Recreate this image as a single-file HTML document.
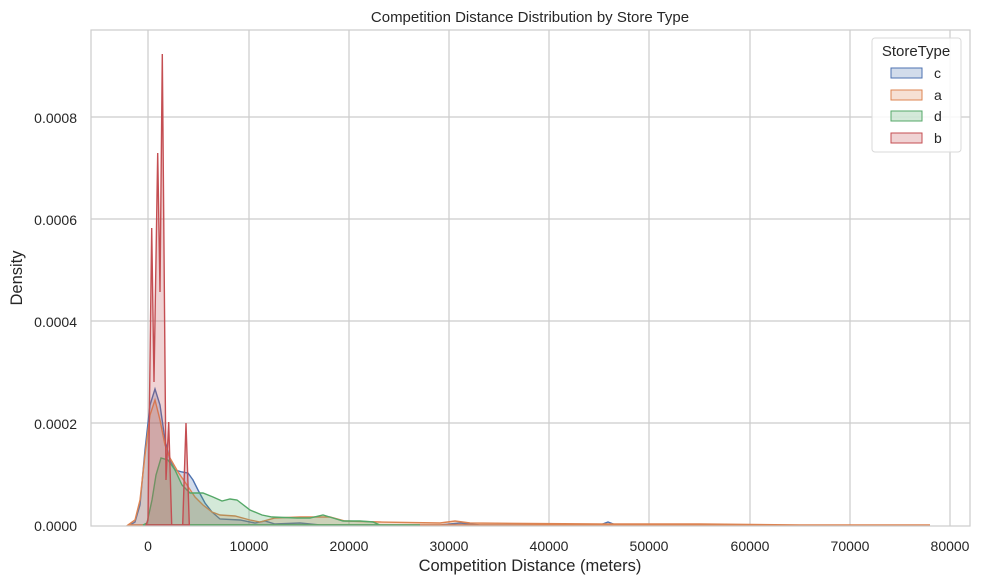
<!DOCTYPE html>
<html><head><meta charset="utf-8"><style>
body{margin:0;background:#fff;}
svg{display:block;font-family:"Liberation Sans",sans-serif;}
</style></head><body>
<svg width="981" height="584" viewBox="0 0 981 584">
<rect width="981" height="584" fill="#fff"/>
<g stroke="#cccccc" stroke-width="1.2">
<line x1="148" y1="30" x2="148" y2="526"/><line x1="249" y1="30" x2="249" y2="526"/><line x1="349" y1="30" x2="349" y2="526"/><line x1="449" y1="30" x2="449" y2="526"/><line x1="549" y1="30" x2="549" y2="526"/><line x1="649" y1="30" x2="649" y2="526"/><line x1="750" y1="30" x2="750" y2="526"/><line x1="850" y1="30" x2="850" y2="526"/><line x1="950" y1="30" x2="950" y2="526"/>
<line x1="91" y1="423" x2="970" y2="423"/><line x1="91" y1="321" x2="970" y2="321"/><line x1="91" y1="219" x2="970" y2="219"/><line x1="91" y1="117" x2="970" y2="117"/>
</g>
<path d="M130,525 L135,522 L140,505 L145,450 L150,405 L155,389 L160,405 L165,440 L170,460 L175,470 L182,472 L188,473 L193,480 L198,490 L205,503 L212,512 L220,519 L240,520 L255,523 L265,521 L275,524 L300,523 L320,525 L440,525 L460,523 L480,525 L600,525 L608,522 L616,525 L700,525 Z" fill="#4c72b0" fill-opacity="0.25" stroke="#4c72b0" stroke-width="1.4"/>
<path d="M128,525 L135,520 L140,500 L145,455 L150,415 L155,400 L160,420 L165,445 L170,458 L178,472 L187,485 L195,497 L203,505 L212,512 L220,515 L235,516 L250,520 L260,522 L275,518 L300,517 L330,517 L345,521 L380,522 L440,523 L455,521 L470,523 L600,524 L700,524 L800,525 L930,525 Z" fill="#dd8452" fill-opacity="0.25" stroke="#dd8452" stroke-width="1.4"/>
<path d="M143,525 L147,523 L152,500 L156,475 L161,458 L168,460 L175,470 L182,485 L190,493 L203,493 L213,497 L222,501 L230,499 L237,500 L250,510 L262,515 L272,517 L297,518 L310,518 L323,515 L333,518 L343,521 L360,521 L373,522 L380,525 L420,525 Z" fill="#55a868" fill-opacity="0.25" stroke="#55a868" stroke-width="1.4"/>
<path d="M146,525 L148,520 L151.7,228 L154,382 L157.7,153 L160,292 L162.3,54 L166,480 L168.7,422 L171.7,525 L182.7,525 L186,423 L189.3,525 Z" fill="#c44e52" fill-opacity="0.25" stroke="#c44e52" stroke-width="1.4"/>
<g stroke="#cccccc" stroke-width="1.2" fill="none"><rect x="91" y="30" width="879" height="496"/></g>
<g font-size="14" fill="#262626">
<g text-anchor="middle">
<text x="148" y="551">0</text><text x="249" y="551">10000</text><text x="349" y="551">20000</text><text x="449" y="551">30000</text><text x="549" y="551">40000</text><text x="649" y="551">50000</text><text x="750" y="551">60000</text><text x="850" y="551">70000</text><text x="950" y="551">80000</text>
</g>
<g text-anchor="end">
<text x="77" y="531">0.0000</text><text x="77" y="429">0.0002</text><text x="77" y="327">0.0004</text><text x="77" y="225">0.0006</text><text x="77" y="123">0.0008</text>
</g>
<text x="530" y="571" text-anchor="middle" font-size="16.5">Competition Distance (meters)</text>
<text transform="translate(22,278) rotate(-90)" text-anchor="middle" font-size="16.5">Density</text>
<text x="530" y="22" text-anchor="middle" font-size="15">Competition Distance Distribution by Store Type</text>
</g>
<rect x="872" y="38" width="89" height="114" rx="3" fill="#fff" fill-opacity="0.85" stroke="#d9d9d9"/>
<g font-size="14" fill="#262626">
<text x="916" y="56" text-anchor="middle" font-size="15">StoreType</text>
<rect x="891" y="68" width="31" height="10" fill="#4c72b0" fill-opacity="0.25" stroke="#4c72b0"/><text x="934" y="78">c</text>
<rect x="891" y="90" width="31" height="10" fill="#dd8452" fill-opacity="0.25" stroke="#dd8452"/><text x="934" y="100">a</text>
<rect x="891" y="111" width="31" height="10" fill="#55a868" fill-opacity="0.25" stroke="#55a868"/><text x="934" y="121">d</text>
<rect x="891" y="133" width="31" height="10" fill="#c44e52" fill-opacity="0.25" stroke="#c44e52"/><text x="934" y="143">b</text>
</g>
</svg>
</body></html>
